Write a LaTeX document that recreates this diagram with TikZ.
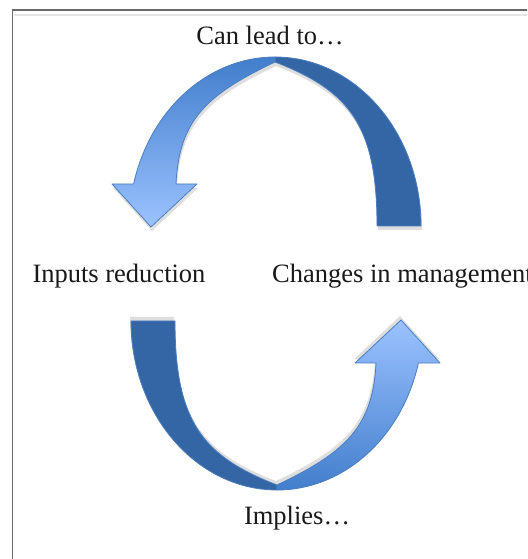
\documentclass[tikz,border=0pt]{standalone}
\usepackage{fontspec}
\setmainfont{Liberation Serif}

\definecolor{backblue}{RGB}{52,102,165}
\definecolor{fronttop}{RGB}{66,126,204}
\definecolor{frontbot}{RGB}{155,194,255}
\definecolor{edgeblue}{RGB}{74,126,190}
\definecolor{framegray}{RGB}{105,105,105}

\tikzset{
  cyclelabel/.style={font=\fontsize{26.5}{30}\selectfont,text=black!90,inner sep=0pt},
  backband/.style={fill=backblue,draw=edgeblue,line width=0.8pt,line join=round},
  shadowband/.style={fill=black!13},
}

% one half of the cycle: #1 rotation, #2/#3 colours of the shaded band (top/bottom)
\newcommand{\halfcycle}[3]{%
  \begin{scope}[rotate around={#1:(276,285.5)}]
    \fill[shadowband,shift={(1,-4)}] (421,333) arc[start angle=0,end angle=165.6,x radius=146,y radius=169]
      -- (112,375) -- (151,332) -- (197,375) -- (176,375)
      .. controls (179,440) and (208,465) .. (275,497)
      .. controls (350,468) and (377,433) .. (377,333) -- cycle;
    \draw[backband] (421,333) arc[start angle=0,end angle=90,x radius=146,y radius=169]
      -- (275,497) .. controls (350,468) and (377,433) .. (377,333) -- cycle;
    \draw[top color=#2,bottom color=#3,draw=edgeblue,line width=0.8pt,line join=round]
      (275,502) arc[start angle=90,end angle=165.6,x radius=146,y radius=169]
      -- (112,375) -- (151,332) -- (197,375) -- (176,375)
      .. controls (179,440) and (208,465) .. (275,497) -- cycle;
  \end{scope}}

\begin{document}
\begin{tikzpicture}[x=1pt,y=1pt]
  \useasboundingbox (0,0) rectangle (527,559);
  \clip (0,0) rectangle (527,559);
  \fill[white] (0,0) rectangle (527,559);

  % frame
  \draw[black!10,line width=1.5pt] (14,544) -- (540,544);
  \draw[framegray,line width=1.5pt] (12.5,-10) -- (12.5,549) -- (540,549);

  % the two arrows
  \halfcycle{0}{fronttop}{frontbot}
  \halfcycle{180}{frontbot}{fronttop}

  \node[cyclelabel,anchor=base] (leadto) at (270,514) {Can lead to…};
  \node[cyclelabel,anchor=base] (inputs) at (119,276) {Inputs reduction};
  \node[cyclelabel,anchor=base west] (changes) at (272,276) {Changes in management};
  \node[cyclelabel,anchor=base] (implies) at (297,34) {Implies…};
\end{tikzpicture}
\end{document}
